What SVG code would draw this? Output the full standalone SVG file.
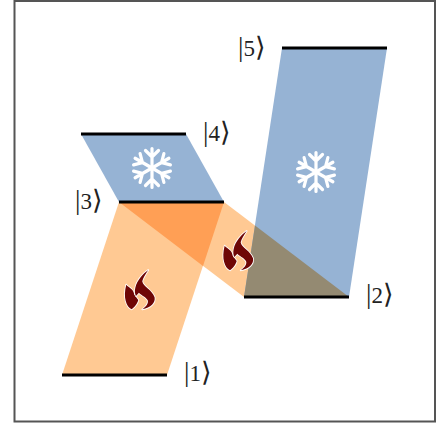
<svg xmlns="http://www.w3.org/2000/svg" width="440" height="423" viewBox="0 0 440 423">
<style>
.lv{stroke:#000;stroke-width:3;fill:none}
.o{fill:#ffc993}.b{fill:#96b3d4}
.t{font-family:"Liberation Serif","DejaVu Serif",serif;font-size:27px;fill:#222}
.d{font-size:23px}
.s{stroke:#fff;stroke-width:3.2;fill:none;stroke-linecap:round}
.f{fill:#6e0606;stroke:#fff;stroke-width:5;stroke-linejoin:round;paint-order:stroke}
</style>
<defs>
<g id="arm"><path class="s" d="M0,0V-19.5M-6.5,-17.5L0,-11L6.5,-17.5"/></g>
<g id="snow"><use href="#arm"/><use href="#arm" transform="rotate(60)"/><use href="#arm" transform="rotate(120)"/><use href="#arm" transform="rotate(180)"/><use href="#arm" transform="rotate(240)"/><use href="#arm" transform="rotate(300)"/></g>
<g id="fire" transform="scale(.3333)">
<path class="f" d="M14,62C22,72 36,74 38,92L50,108C48,118 38,130 30,136C14,128 4,100 14,62Z"/>
<path class="f" d="M80,18C66,28 46,48 41,72C39,82 40,90 43,96L52,86C56,92 72,98 78,108C82,116 74,128 62,136C88,132 102,116 99,100C92,78 64,68 62,52C64,42 72,30 80,18Z"/>
</g>
</defs>
<rect width="440" height="423" fill="#fff"/>
<rect x="14.500" y="1" width="420.500" height="420.500" fill="none" stroke="#555" stroke-width="2"/>
<g id="connectors">
<polygon class="o" points="62,375 167,375 224,202 119,202"/>
<polygon class="o" points="119,202 224,202 349,297 244,297"/>
<polygon class="b" points="81,134 186,134 224,202 119,202"/>
<polygon class="b" points="282,48 387,48 349,297 244,297"/>
<polygon fill="#ff9f55" points="119,202 224,202 203,266"/>
<polygon fill="#948a72" points="244,297 349,297 255,225.500"/>
<use href="#snow" x="152" y="168"/>
<use href="#snow" x="316" y="172"/>
<use href="#fire" x="121.600" y="264"/>
<use href="#fire" x="220" y="225"/>
</g>
<g id="level1"><line class="lv" x1="62" y1="375" x2="167" y2="375"/><text class="t" x="184" y="381">|<tspan class="d">1</tspan>⟩</text></g>
<g id="level2"><line class="lv" x1="244" y1="297" x2="349" y2="297"/><text class="t" x="366" y="303">|<tspan class="d">2</tspan>⟩</text></g>
<g id="level3"><line class="lv" x1="119" y1="202" x2="224" y2="202"/><text class="t" x="75" y="209">|<tspan class="d">3</tspan>⟩</text></g>
<g id="level4"><line class="lv" x1="81" y1="134" x2="186" y2="134"/><text class="t" x="203" y="141">|<tspan class="d">4</tspan>⟩</text></g>
<g id="level5"><line class="lv" x1="282" y1="48" x2="387" y2="48"/><text class="t" x="238" y="56">|<tspan class="d">5</tspan>⟩</text></g>
</svg>
